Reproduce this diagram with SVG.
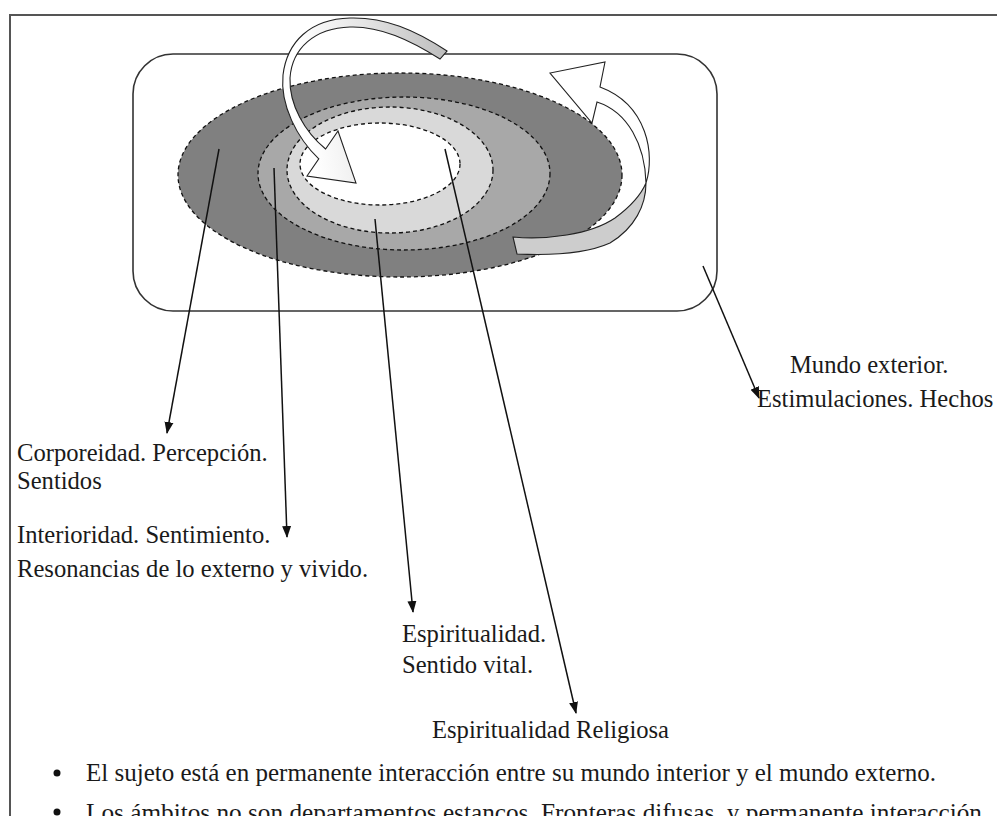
<svg xmlns="http://www.w3.org/2000/svg" width="997" height="816" viewBox="0 0 997 816">
<defs>
<style>
.frame{fill:none;stroke:#555;stroke-width:2}
.ring{stroke:#111;stroke-width:1.3;stroke-dasharray:4 3}
.lead{stroke:#111;stroke-width:1.5;fill:none;marker-end:url(#ah)}
.rib{stroke:#222;stroke-width:1.1;stroke-linejoin:miter}
text{font-family:"Liberation Serif","Times New Roman",serif;font-size:24.6px;fill:#1a1a1a}
</style>
<marker id="ah" viewBox="0 0 12 10" refX="11" refY="5" markerWidth="12" markerHeight="10" markerUnits="userSpaceOnUse" orient="auto">
<path d="M0,0.5 L12,5 L0,9.5 Z" fill="#111"/>
</marker>
<linearGradient id="topg" gradientUnits="userSpaceOnUse" x1="445" y1="40" x2="300" y2="60">
<stop offset="0" stop-color="#bdbdbd"/>
<stop offset="0.55" stop-color="#e6e6e6"/>
<stop offset="1" stop-color="#ffffff"/>
</linearGradient>
</defs>
<rect width="997" height="816" fill="#fff"/>
<g id="frame">
<path class="frame" d="M10,816 L10,15 L997,15"/>
</g>
<g id="world">
<rect x="133" y="54" width="584" height="257" rx="40" ry="40" fill="none" stroke="#333" stroke-width="1.6"/>
</g>
<g id="rings">
<ellipse id="corporeidad" class="ring" cx="400" cy="175" rx="222" ry="102" fill="#808080"/>
<ellipse id="interioridad" class="ring" cx="404" cy="173.5" rx="146" ry="76.5" fill="#a8a8a8"/>
<ellipse id="espiritualidad" class="ring" cx="390" cy="170" rx="103" ry="63" fill="#d9d9d9"/>
<ellipse id="religiosa" class="ring" cx="380" cy="164" rx="80" ry="41" fill="#ffffff"/>
</g>
<g id="top-arrow">
<path class="rib" fill="url(#topg)" d="M447,51 C415,30 385,17 350,18 C310,19 287,42 283,75 C280,105 297,138 318.8,158.9 L307,176 L356,183 L338,131 L325.6,149 C305,132 289,105 290,78 C292,48 315,28 350,27 C380,26 410,40 440,59 Z"/>
</g>
<g id="right-arrow">
<path class="rib" fill="#cdcdcd" d="M513,237 C545,240 590,235 615,218 C630,207 640,197 646,183 C646,205 635,228 610,243 C590,252 560,256 517,254 Z"/>
<path class="rib" fill="#ffffff" d="M646,183 C655,155 648,105 600,87 L605,62 L550,73 L592,123 L597,102 C628,112 645,145 646,183 Z"/>
</g>
<g id="connectors">
<line class="lead" x1="219" y1="149" x2="167" y2="433"/>
<line class="lead" x1="274" y1="168" x2="287" y2="537"/>
<line class="lead" x1="375" y1="219" x2="413" y2="612"/>
<line class="lead" x1="445" y1="149" x2="576" y2="713"/>
<line class="lead" x1="703" y1="266" x2="759" y2="398"/>
</g>
<g id="labels">
<text x="790" y="373">Mundo exterior.</text>
<text x="757" y="407">Estimulaciones. Hechos</text>
<text x="17" y="461">Corporeidad. Percepción.</text>
<text x="17" y="489">Sentidos</text>
<text x="17" y="543">Interioridad. Sentimiento.</text>
<text x="17" y="577">Resonancias de lo externo y vivido.</text>
<text x="402" y="642">Espiritualidad.</text>
<text x="402" y="673">Sentido vital.</text>
<text x="432" y="738">Espiritualidad Religiosa</text>
</g>
<g id="notes">
<circle cx="57" cy="773" r="3.5" fill="#111"/>
<text x="86" y="781" textLength="850" lengthAdjust="spacingAndGlyphs">El sujeto está en permanente interacción entre su mundo interior y el mundo externo.</text>
<circle cx="57" cy="812" r="3.5" fill="#111"/>
<text x="86" y="821" textLength="896" lengthAdjust="spacingAndGlyphs">Los ámbitos no son departamentos estancos. Fronteras difusas, y permanente interacción</text>
</g>
</svg>
